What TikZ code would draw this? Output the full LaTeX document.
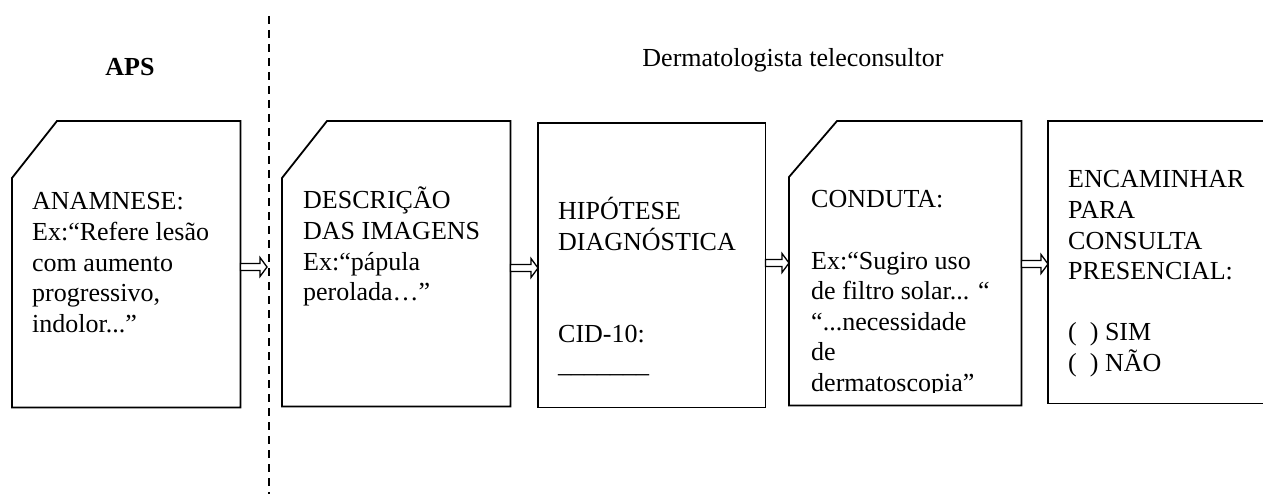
\documentclass[tikz,border=0pt]{standalone}
\usepackage{fontspec}
\setmainfont{Liberation Serif}
\usetikzlibrary{calc}
\tikzset{
  boxn/.style={draw=none, inner sep=0pt, anchor=north west},
  boxline/.style={draw=black, line width=1.8pt, line join=miter},
  txt/.style={inner sep=0pt, anchor=base west, font=\fontsize{26}{30.6}\selectfont},
  head/.style={inner sep=0pt, anchor=base, font=\fontsize{26}{30.6}\selectfont},
  harrow/.style={draw=black, line width=1.3pt, fill=white, line join=miter},
  divider/.style={draw=black, line width=2pt, dash pattern=on 8pt off 6pt}
}
\newcommand\hollowarrow[2]{%
  \draw[harrow] let \p1=(#1), \p2=(#2) in
    (\x1,\y1+3.5pt) -- (\x2-7pt,\y1+3.5pt) -- (\x2-7pt,\y1+9.5pt) -- (\x2,\y1)
    -- (\x2-7pt,\y1-9.5pt) -- (\x2-7pt,\y1-3.5pt) -- (\x1,\y1-3.5pt) -- cycle;}
\newcommand\lines[1]{\parbox[t]{215pt}{\raggedright #1}}
\begin{document}
\begin{tikzpicture}[x=1pt, y=-1pt]
\clip (0,0) rectangle (1263,494);
\fill[white] (0,0) rectangle (1263,494);

% headings
\node[head, font=\fontsize{26}{30.6}\selectfont\bfseries] (aps) at (130,76) {APS};
\node[head] (derm) at (793,67) {Dermatologista teleconsultor};

% divider
\coordinate (dtop) at (269,16);
\coordinate (dbot) at (269,494);
\draw[divider] (dtop) -- (dbot);

% box frames (invisible nodes giving the extents)
\node[boxn, minimum width=228pt, minimum height=286pt] (b1) at (12,121) {};
\node[boxn, minimum width=228pt, minimum height=285pt] (b2) at (282,121) {};
\node[boxn, minimum width=227pt, minimum height=284pt] (b3) at (538,123) {};
\node[boxn, minimum width=232pt, minimum height=284pt] (b4) at (789,121) {};
\node[boxn, minimum width=240pt, minimum height=282pt] (b5) at (1048,121) {};

\draw[boxline] (b1.south west) -- ([yshift=-57pt]b1.north west) -- ([xshift=45pt]b1.north west)
  -- (b1.north east) -- (b1.south east) -- cycle;
\draw[boxline] (b2.south west) -- ([yshift=-57pt]b2.north west) -- ([xshift=45pt]b2.north west)
  -- (b2.north east) -- (b2.south east) -- cycle;
\draw[boxline] (b3.south west) rectangle (b3.north east);
\draw[boxline] (b4.south west) -- ([yshift=-56pt]b4.north west) -- ([xshift=48pt]b4.north west)
  -- (b4.north east) -- (b4.south east) -- cycle;
\draw[boxline] (b5.south west) rectangle (b5.north east);

% texts
\node[txt] (t1) at (32,210) {\lines{ANAMNESE:\\Ex:“Refere lesão\\com aumento\\progressivo,\\indolor...”}};
\node[txt] (t2) at (303,209) {\lines{DESCRIÇÃO\\DAS IMAGENS\\Ex:“pápula\\perolada…”}};
\node[txt] (t3) at (558,220) {\lines{HIPÓTESE\\DIAGNÓSTICA\\\mbox{}\\\mbox{}\\CID-10:\\\_\_\_\_\_\_\_}};
\begin{scope}
  \clip (789,121) rectangle (1021,392);
  \node[txt] (t4) at (811,208) {\lines{CONDUTA:\\\mbox{}\\Ex:“Sugiro uso\\de filtro solar... “\\“...necessidade\\de\\dermatoscopia”}};
\end{scope}
\node[txt] (t5) at (1068,188) {\lines{ENCAMINHAR\\PARA\\CONSULTA\\PRESENCIAL:\\\mbox{}\\(\ \ ) SIM\\(\ \ ) NÃO}};

% arrows
\coordinate (ay1) at (0,267);
\coordinate (a1end) at (267,267);
\coordinate (ay2) at (0,268);
\coordinate (ay3) at (0,263);
\coordinate (ay4) at (0,264);
\hollowarrow{b1.east |- ay1}{a1end}
\hollowarrow{b2.east |- ay2}{b3.west |- ay2}
\hollowarrow{b3.east |- ay3}{b4.west |- ay3}
\hollowarrow{b4.east |- ay4}{b5.west |- ay4}
\end{tikzpicture}
\end{document}
